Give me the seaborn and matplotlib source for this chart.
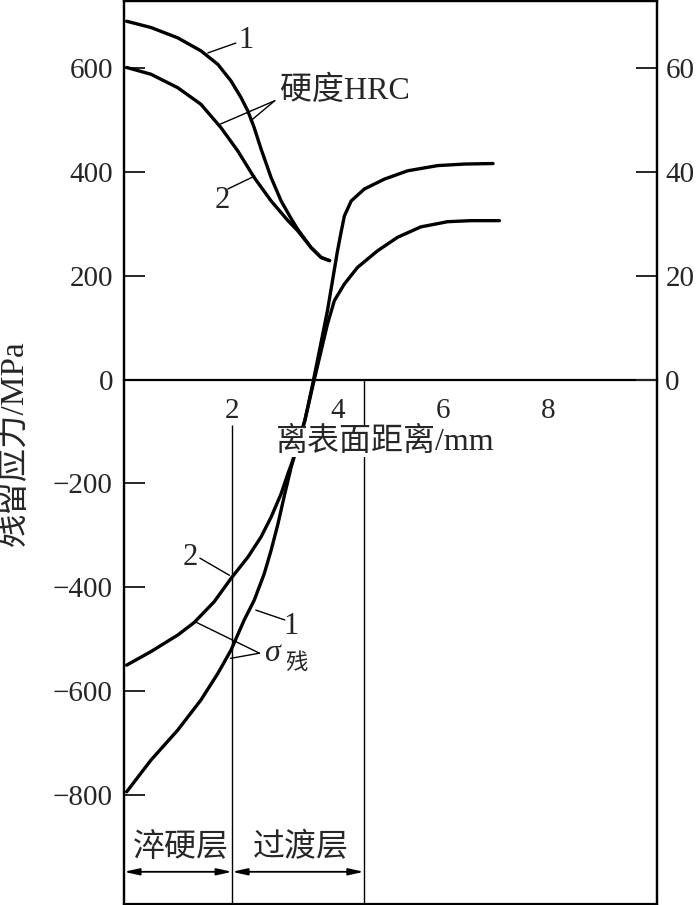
import matplotlib
matplotlib.use("Agg")
import matplotlib.pyplot as plt
import seaborn as sns

# depth from surface (mm) and residual stress (MPa), curve 1 and 2
stress1_x = [0, 0.46, 0.97, 1.41, 1.73, 1.98, 2.23, 2.42, 2.61, 2.74, 2.87, 3.0, 3.12,
             3.38, 3.53, 3.81, 4.0, 4.07, 4.13, 4.26, 4.51, 4.89, 5.33, 5.90, 6.41, 6.95]
stress1_y = [-794, -733, -675, -617, -566, -521, -463, -425, -374, -329, -278, -220, -169,
             -79, -8, 133, 248, 285, 315, 344, 367, 386, 402, 412, 415, 416]
stress2_x = [0, 0.46, 0.97, 1.28, 1.66, 1.98, 2.30, 2.55, 2.74, 2.93, 3.06, 3.15, 3.38,
             3.55, 3.81, 3.94, 4.13, 4.38, 4.76, 5.14, 5.58, 6.09, 6.53, 7.07]
stress2_y = [-550, -524, -492, -468, -428, -383, -342, -303, -265, -220, -181, -156, -79,
             -4, 107, 152, 184, 216, 248, 274, 294, 304, 306, 306]

# hardness HRC, curve 1 and 2
hrc1_x = [0, 0.46, 0.97, 1.41, 1.73, 1.98, 2.17, 2.30, 2.42, 2.55, 2.74, 2.93, 3.12,
          3.24, 3.50, 3.69, 3.85]
hrc1_y = [69.0, 67.8, 65.8, 63.3, 60.7, 57.5, 54.3, 51.7, 48.5, 44.4, 38.9, 34.4, 31.0,
          29.0, 25.4, 23.5, 22.9]
hrc2_x = [0, 0.46, 0.97, 1.41, 1.79, 2.11, 2.42, 2.74, 3.06, 3.24, 3.50, 3.69, 3.85]
hrc2_y = [60.1, 58.8, 56.2, 53.0, 48.5, 44.0, 38.9, 34.4, 30.6, 28.7, 25.4, 23.5, 22.9]

x_ticks = [2, 4, 6, 8]
y_ticks = [-800, -600, -400, -200, 0, 200, 400, 600]
hrc_ticks = [0, 20, 40, 60]
layer_bounds = [0, 2, 4.5]
layer_names = ["淬硬层", "过渡层"]

sns.set_style("white")
plt.rcParams["font.family"] = ["Liberation Serif", "Noto Sans CJK SC"]
plt.rcParams["axes.unicode_minus"] = True

fig = plt.figure(figsize=(6.96, 9.05), dpi=100)
ax = fig.add_axes([124 / 696, 1 / 905, 533 / 696, 903 / 905])
ax2 = ax.twinx()

lw = 2.4
sns.lineplot(x=stress1_x, y=stress1_y, ax=ax, color="black", linewidth=lw, sort=False, estimator=None)
sns.lineplot(x=stress2_x, y=stress2_y, ax=ax, color="black", linewidth=lw, sort=False, estimator=None)
sns.lineplot(x=hrc1_x, y=hrc1_y, ax=ax2, color="black", linewidth=lw, sort=False, estimator=None)
sns.lineplot(x=hrc2_x, y=hrc2_y, ax=ax2, color="black", linewidth=lw, sort=False, estimator=None)

ymin, ymax = -1010, 729
ax.set_xlim(-0.05, 10.06)
ax.set_ylim(ymin, ymax)
ax2.set_ylim(ymin / 10, ymax / 10)

# x axis sits on stress = 0
ax.spines["bottom"].set_position(("data", 0))
for a in (ax, ax2):
    for s in a.spines.values():
        s.set_linewidth(1.6)
        s.set_color("black")
ax.set_xticks(x_ticks)
ax.set_yticks(y_ticks)
ax2.set_yticks(hrc_ticks)
ax.tick_params(axis="x", direction="in", length=13, width=1.4, pad=13, labelsize=21)
ax.tick_params(axis="y", direction="in", length=15, width=1.4, pad=8, labelsize=21)
ax2.tick_params(axis="y", direction="in", length=15, width=1.4, pad=6, labelsize=21)
for lbl in ax.get_xticklabels():
    lbl.set_bbox(dict(facecolor="white", edgecolor="none", pad=1))

# layer boundaries
ax.vlines(2, ymin, -88, color="black", linewidth=1.0)
ax.vlines(4.5, ymin, 0, color="black", linewidth=1.0)

ax.text(4.9, -120, "离表面距离/mm", fontsize=23, ha="center", va="center", zorder=10,
        bbox=dict(facecolor="white", edgecolor="none", pad=0))

# layer arrows and names
for i, name in enumerate(layer_names):
    x0, x1 = layer_bounds[i] - (0.05 if i == 0 else 0), layer_bounds[i + 1]
    ax.annotate("", xy=(x0, -948), xytext=(x1, -948),
                arrowprops=dict(arrowstyle="<|-|>,head_length=0.9,head_width=0.2",
                                color="black", lw=1.3, shrinkA=0, shrinkB=0))
    ax.text((x0 + x1) / 2 + 0.05, -902, name, fontsize=23, ha="center", va="center")

# curve labels
lk = dict(color="black", linewidth=1.0)
ax.plot([1.54, 2.07], [629, 648], **lk)
ax.text(2.12, 652, "1", fontsize=22, ha="left", va="center")
ax.plot([1.92, 2.43], [367, 392], **lk)
ax.text(1.82, 345, "2", fontsize=22, ha="center", va="center")
ax.plot([2.81, 1.78], [537, 492], **lk)
ax.plot([2.81, 2.35], [537, 498], **lk)
ax.text(2.9, 556, "硬度HRC", fontsize=23, ha="left", va="center")

ax.plot([1.39, 1.95], [-344, -377], **lk)
ax.text(1.2, -342, "2", fontsize=22, ha="center", va="center")
ax.plot([3.0, 2.45], [-463, -444], **lk)
ax.text(3.11, -475, "1", fontsize=22, ha="center", va="center")
ax.plot([2.52, 1.29], [-527, -466], **lk)
ax.plot([2.52, 1.97], [-527, -537], **lk)
ax.text(2.6, -527, "σ", fontsize=23, style="italic", ha="left", va="center")
ax.text(3.0, -547, "残", fontsize=16, ha="left", va="center")

fig.text(14 / 696, 1 - 443 / 905, "残留应力/MPa", fontsize=24, rotation=90,
         ha="center", va="center")

fig.savefig("out.png", dpi=100)
